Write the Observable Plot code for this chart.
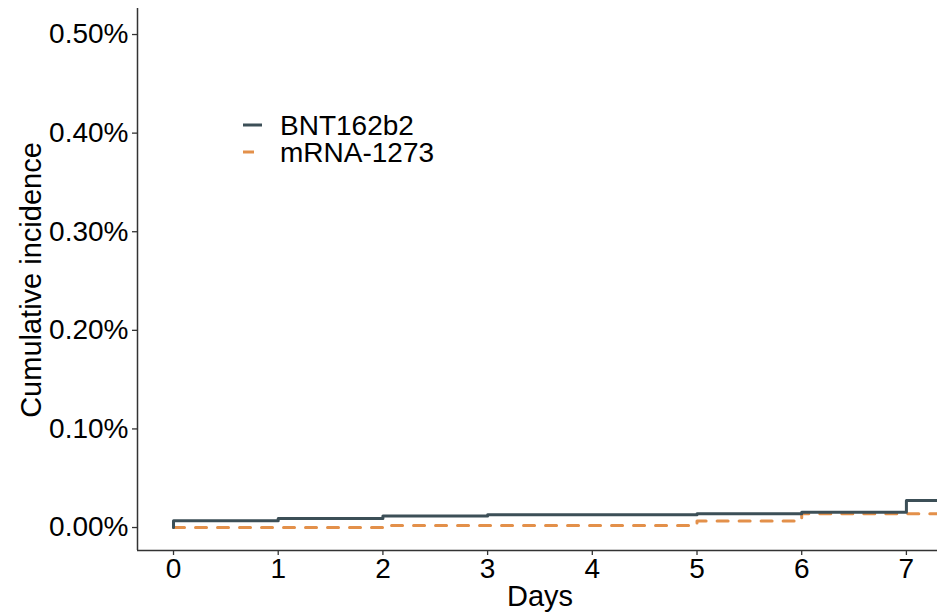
<!DOCTYPE html>
<html>
<head>
<meta charset="utf-8">
<script src="https://cdn.jsdelivr.net/npm/d3@7"></script>
<script src="https://cdn.jsdelivr.net/npm/@observablehq/plot@0.6"></script>
<style>
  html, body { margin: 0; padding: 0; background: #fff; }
  #chart { width: 937px; height: 614px; }
</style>
</head>
<body>
<div id="chart"></div>
<script>
// Data (cumulative incidence, in percent), step-after
const series = ["BNT162b2", "mRNA-1273"];
const colors = ["#3c4f57", "#e3904a"];
const bntDays = [0, 0, 1, 2, 3, 5, 6, 7, 7.3];
const bntValues = [0, 0.0068, 0.0091, 0.0116, 0.0129, 0.0139, 0.0156, 0.0274, 0.0274];
const mrnaDays = [0, 2, 5, 6, 7.3];
const mrnaValues = [0, 0.0020, 0.0065, 0.0139, 0.0139];
const xTicks = [0, 1, 2, 3, 4, 5, 6, 7];
const yTicks = [0, 0.1, 0.2, 0.3, 0.4, 0.5];
const xDomain = [-0.344, 7.297];
const yDomain = [-0.0233, 0.5264];
const xTitle = "Days";
const yTitle = "Cumulative incidence";

const bnt = bntDays.map((d, i) => ({day: d, value: bntValues[i], series: series[0]}));
const mrna = mrnaDays.map((d, i) => ({day: d, value: mrnaValues[i], series: series[1]}));

const W = 937, H = 614;
const mL = 137, mR = 0, mT = 8, mB = 64;
const font = "'Liberation Sans', Arial, sans-serif";

const plot = Plot.plot({
  width: W,
  height: H,
  marginLeft: mL,
  marginRight: mR,
  marginTop: mT,
  marginBottom: mB,
  style: {fontFamily: font, fontSize: "28px", color: "#000", background: "#fff", overflow: "visible"},
  x: {domain: xDomain},
  y: {domain: yDomain},
  marks: [
    Plot.axisY({ticks: yTicks, tickSize: 5, tickPadding: 4, tickFormat: d => d.toFixed(2) + "%", label: null, stroke: "#333", strokeWidth: 1.3, fill: "#000"}),
    Plot.axisX({ticks: xTicks, tickSize: 5, tickPadding: 3, tickFormat: d => String(d), label: null, stroke: "#333", strokeWidth: 1.3, fill: "#000"}),
    Plot.ruleX([xDomain[0]], {stroke: "#333", strokeWidth: 1.5}),
    Plot.ruleY([yDomain[0]], {stroke: "#333", strokeWidth: 1.5}),
    Plot.line(mrna, {x: "day", y: "value", curve: "step-after", stroke: colors[1], strokeWidth: 3, strokeDasharray: "11,11", clip: true}),
    Plot.line(bnt, {x: "day", y: "value", curve: "step-after", stroke: colors[0], strokeWidth: 3, clip: true})
  ]
});

document.getElementById("chart").appendChild(plot);

const svg = d3.select(plot);
// axis titles
svg.append("text")
  .attr("x", 540).attr("y", 606)
  .attr("text-anchor", "middle")
  .style("font-family", font).style("font-size", "29px").attr("fill", "#000")
  .text(xTitle);
svg.append("text")
  .attr("transform", `translate(${41},${280}) rotate(-90)`)
  .attr("text-anchor", "middle")
  .style("font-family", font).style("font-size", "29px").attr("fill", "#000")
  .text(yTitle);

// legend
const lg = svg.append("g").attr("transform", "translate(243,125)");
series.forEach((s, i) => {
  const g = lg.append("g").attr("transform", `translate(0,${i * 27})`);
  g.append("line").attr("x1", 0).attr("x2", 19).attr("y1", 0).attr("y2", 0)
    .attr("stroke", colors[i]).attr("stroke-width", 3)
    .attr("stroke-dasharray", i === 1 ? "11,11" : null);
  g.append("text").attr("x", 37).attr("y", 0).attr("dy", "0.35em")
    .attr("text-anchor", "start")
    .style("font-family", font).style("font-size", "28px").attr("fill", "#000")
    .text(s);
});
</script>
</body>
</html>
